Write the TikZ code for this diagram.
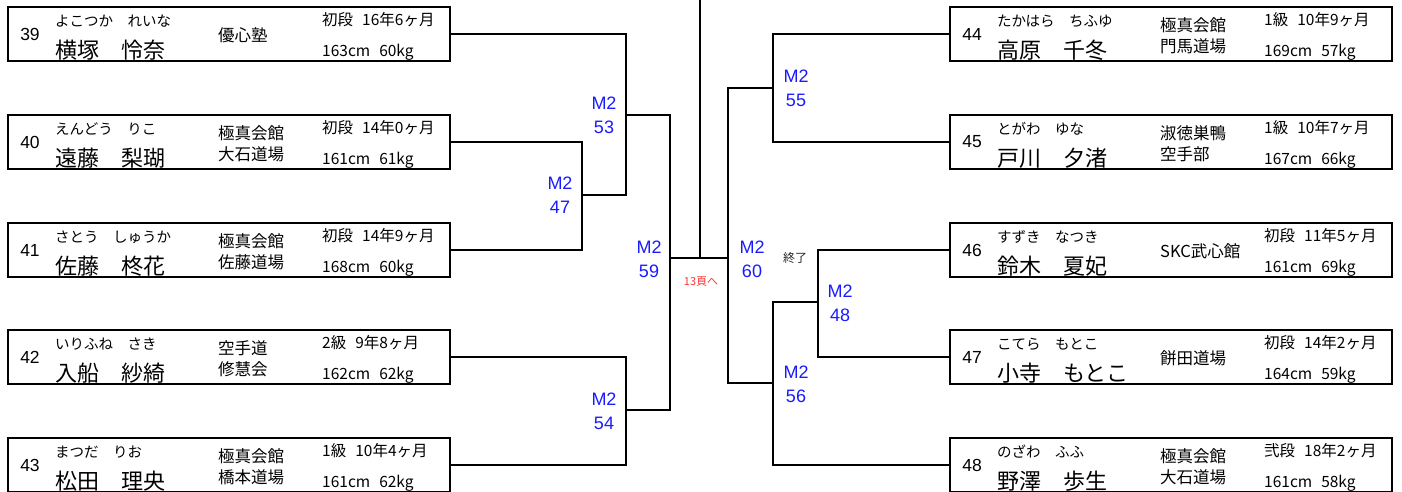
\documentclass[tikz,border=0pt]{standalone}
\usepackage{fontspec}
\setmainfont{Liberation Sans}
\newfontfamily\jp{Noto Sans CJK JP}
\definecolor{mblue}{RGB}{26,26,255}
\definecolor{mred}{RGB}{255,50,50}
\newcommand\player[8]{%
  \node[pbox, anchor=north west] (b#1) at (#2,#3) {};
  \node[numtxt] (n#1) at ([xshift=23pt]b#1.west) {#1};
  \node[kanatxt] (k#1) at ([xshift=48pt,yshift=-15pt]b#1.north west) {#4};
  \node[nametxt] (m#1) at ([xshift=48pt,yshift=-44pt]b#1.north west) {#5};
  \node[dojotxt] (d#1) at ([xshift=211pt,yshift=-29.5pt]b#1.north west) {#6};
  \node[ranktxt] (r#1) at ([xshift=315pt,yshift=-14pt]b#1.north west) {#7};
  \node[ranktxt] (s#1) at ([xshift=315pt,yshift=-46pt]b#1.north west) {#8};
}
\begin{document}
\begin{tikzpicture}[x=1pt,y=-1pt,
 pbox/.style={draw, line width=2pt, minimum width=442pt, minimum height=54pt, inner sep=0pt},
 conn/.style={line width=1.6pt},
 numtxt/.style={inner sep=0pt, font=\fontsize{17.5}{17.5}\selectfont},
 kanatxt/.style={inner sep=0pt, anchor=west, font=\jp\fontsize{14.5}{14.5}\selectfont},
 nametxt/.style={inner sep=0pt, anchor=west, font=\jp\fontsize{22}{22}\selectfont},
 dojotxt/.style={inner sep=0pt, anchor=west, align=left, font=\jp\fontsize{16.5}{21}\selectfont},
 ranktxt/.style={inner sep=0pt, anchor=west, font=\jp\fontsize{15.5}{15.5}\selectfont},
 mlabel/.style={inner sep=0pt, align=center, text=mblue, font=\fontsize{18}{24}\selectfont},
]
\path[use as bounding box] (0,0) rectangle (1402,491);

\player{39}{7}{6}{よこつか　れいな}{横塚　怜奈}{優心塾}{初段\hspace{9pt}16年6ヶ月}{163cm\hspace{9pt}60kg}
\player{40}{7}{114}{えんどう　りこ}{遠藤　梨瑚}{極真会館\\大石道場}{初段\hspace{9pt}14年0ヶ月}{161cm\hspace{9pt}61kg}
\player{41}{7}{222}{さとう　しゅうか}{佐藤　柊花}{極真会館\\佐藤道場}{初段\hspace{9pt}14年9ヶ月}{168cm\hspace{9pt}60kg}
\player{42}{7}{329}{いりふね　さき}{入船　紗綺}{空手道\\修慧会}{2級\hspace{9pt}9年8ヶ月}{162cm\hspace{9pt}62kg}
\player{43}{7}{437}{まつだ　りお}{松田　理央}{極真会館\\橋本道場}{1級\hspace{9pt}10年4ヶ月}{161cm\hspace{9pt}62kg}
\player{44}{949}{6}{たかはら　ちふゆ}{高原　千冬}{極真会館\\門馬道場}{1級\hspace{9pt}10年9ヶ月}{169cm\hspace{9pt}57kg}
\player{45}{949}{114}{とがわ　ゆな}{戸川　夕渚}{淑徳巣鴨\\空手部}{1級\hspace{9pt}10年7ヶ月}{167cm\hspace{9pt}66kg}
\player{46}{949}{222}{すずき　なつき}{鈴木　夏妃}{SKC武心館}{初段\hspace{9pt}11年5ヶ月}{161cm\hspace{9pt}69kg}
\player{47}{949}{329}{こてら　もとこ}{小寺　もとこ}{餅田道場}{初段\hspace{9pt}14年2ヶ月}{164cm\hspace{9pt}59kg}
\player{48}{949}{437}{のざわ　ふふ}{野澤　歩生}{極真会館\\大石道場}{弐段\hspace{9pt}18年2ヶ月}{161cm\hspace{9pt}58kg}

\coordinate (j47) at (582,195);
\coordinate (j53) at (626,115);
\coordinate (j54) at (626,410);
\coordinate (j59) at (670,258);
\coordinate (jc) at (700,258);
\coordinate (top) at (700,0);
\coordinate (j60) at (728,258);
\coordinate (j55) at (773,88);
\coordinate (j56) at (773,383);
\coordinate (j48) at (818,302);

\draw[conn] (b40.east) -| (j47) |- (b41.east);
\draw[conn] (b39.east) -| (j53) |- (j47);
\draw[conn] (b42.east) -| (j54) |- (b43.east);
\draw[conn] (j53) -| (j59) |- (j54);
\draw[conn] (j59) -- (j60);
\draw[conn] (jc) -- (top);
\draw[conn] (b44.west) -| (j55) |- (b45.west);
\draw[conn] (b46.west) -| (j48) |- (b47.west);
\draw[conn] (j48) -| (j56) |- (b48.west);
\draw[conn] (j55) -| (j60) |- (j56);

\node[mlabel] (l47) at (560,195) {M2\\47};
\node[mlabel] (l53) at (604,115) {M2\\53};
\node[mlabel] (l54) at (604,411) {M2\\54};
\node[mlabel] (l59) at (649,259) {M2\\59};
\node[mlabel] (l60) at (752,259) {M2\\60};
\node[mlabel] (l55) at (796,88) {M2\\55};
\node[mlabel] (l48) at (840,303) {M2\\48};
\node[mlabel] (l56) at (796,384) {M2\\56};
\node[inner sep=0pt, text=mred, font=\jp\fontsize{11}{11}\selectfont] (p13) at (701,282) {13頁へ};
\node[inner sep=0pt, text=black!85, font=\jp\fontsize{12}{12}\selectfont] (fin) at (795,258) {終了};
\end{tikzpicture}
\end{document}
